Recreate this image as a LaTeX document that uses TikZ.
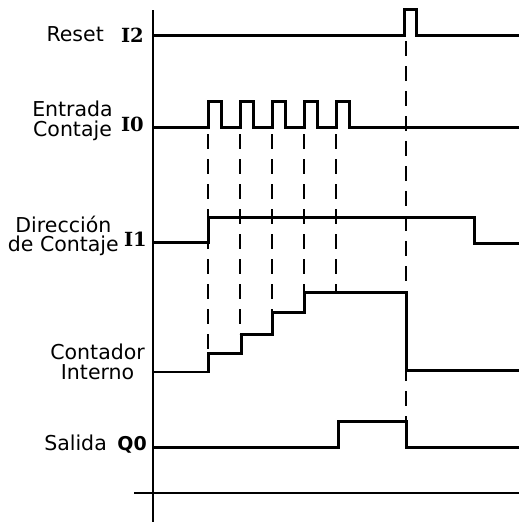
\documentclass[tikz,border=0pt]{standalone}
\usepackage{fontspec}
\setmainfont{DejaVu Sans}
\newfontfamily\slabbold{DejaVu Serif}[BoldFont={DejaVu Serif Bold}]
\newfontfamily\sansbold{DejaVu Sans}[BoldFont={DejaVu Sans Bold}]
\begin{document}
\begin{tikzpicture}[x=1pt,y=-1pt,
  sig/.style={line width=3pt,line join=miter},
  thinsig/.style={line width=1.6pt},
  axisline/.style={line width=2pt},
  baseline/.style={line width=1.3pt},
  guide/.style={line width=2pt,dash pattern=on 15pt off 10pt},
  lbl/.style={font=\fontsize{20.5}{19.5}\selectfont,align=center,inner sep=0pt},
  pin/.style={font=\slabbold\bfseries\fontsize{19.5}{19.5}\selectfont,inner sep=0pt},
  pinq/.style={font=\sansbold\bfseries\fontsize{19}{19}\selectfont,inner sep=0pt}]
\useasboundingbox (0,0) rectangle (519,522);
% axes
\draw[axisline] (153,10) -- (153,522);
\draw[baseline] (134,493) -- (519,493);
% labels
\node[lbl,anchor=east] (reset) at (104,34) {Reset};
\node[pin,anchor=east] (i2) at (144,35) {I2};
\node[lbl,anchor=east] (entrada) at (113,121) {Entrada\\Contaje};
\node[pin,anchor=east] (i0) at (144,124) {I0};
\node[lbl,anchor=east] (direccion) at (119,236) {Dirección\\de Contaje};
\node[pin,anchor=east] (i1) at (147,239) {I1};
\node[lbl,anchor=east] (contador) at (145,362) {Contador\\Interno};
\node[lbl,anchor=east] (salida) at (107,443) {Salida};
\node[pinq,anchor=east] (q0) at (147,445) {Q0};
% guides
\foreach \x/\y in {208/353,240/334,272/312,304/292,336/292}
  \draw[guide] (\x,134) -- (\x,\y);
\draw[guide] (406,41) -- (406,421);
% I2
\draw[sig] (153,35) -- (404,35) -- (404,9) -- (416,9) -- (416,35) -- (519,35);
% I0
\draw[sig] (153,127) -- (208,127) -- (208,101) -- (221,101) -- (221,127)
  -- (240,127) -- (240,101) -- (253,101) -- (253,127)
  -- (272,127) -- (272,101) -- (285,101) -- (285,127)
  -- (304,127) -- (304,101) -- (317,101) -- (317,127)
  -- (336,127) -- (336,101) -- (349,101) -- (349,127) -- (519,127);
% I1
\draw[sig] (153,242) -- (208,242) -- (208,217) -- (474,217) -- (474,243) -- (519,243);
% counter
\draw[thinsig] (153,372) -- (208,372);
\draw[sig] (208,373) -- (208,353) -- (241,353) -- (241,334) -- (272,334) -- (272,312)
  -- (304,312) -- (304,292) -- (406,292) -- (406,370) -- (519,370);
% Q0
\draw[sig] (153,447) -- (338,447) -- (338,421) -- (406,421) -- (406,447) -- (519,447);
\end{tikzpicture}
\end{document}
